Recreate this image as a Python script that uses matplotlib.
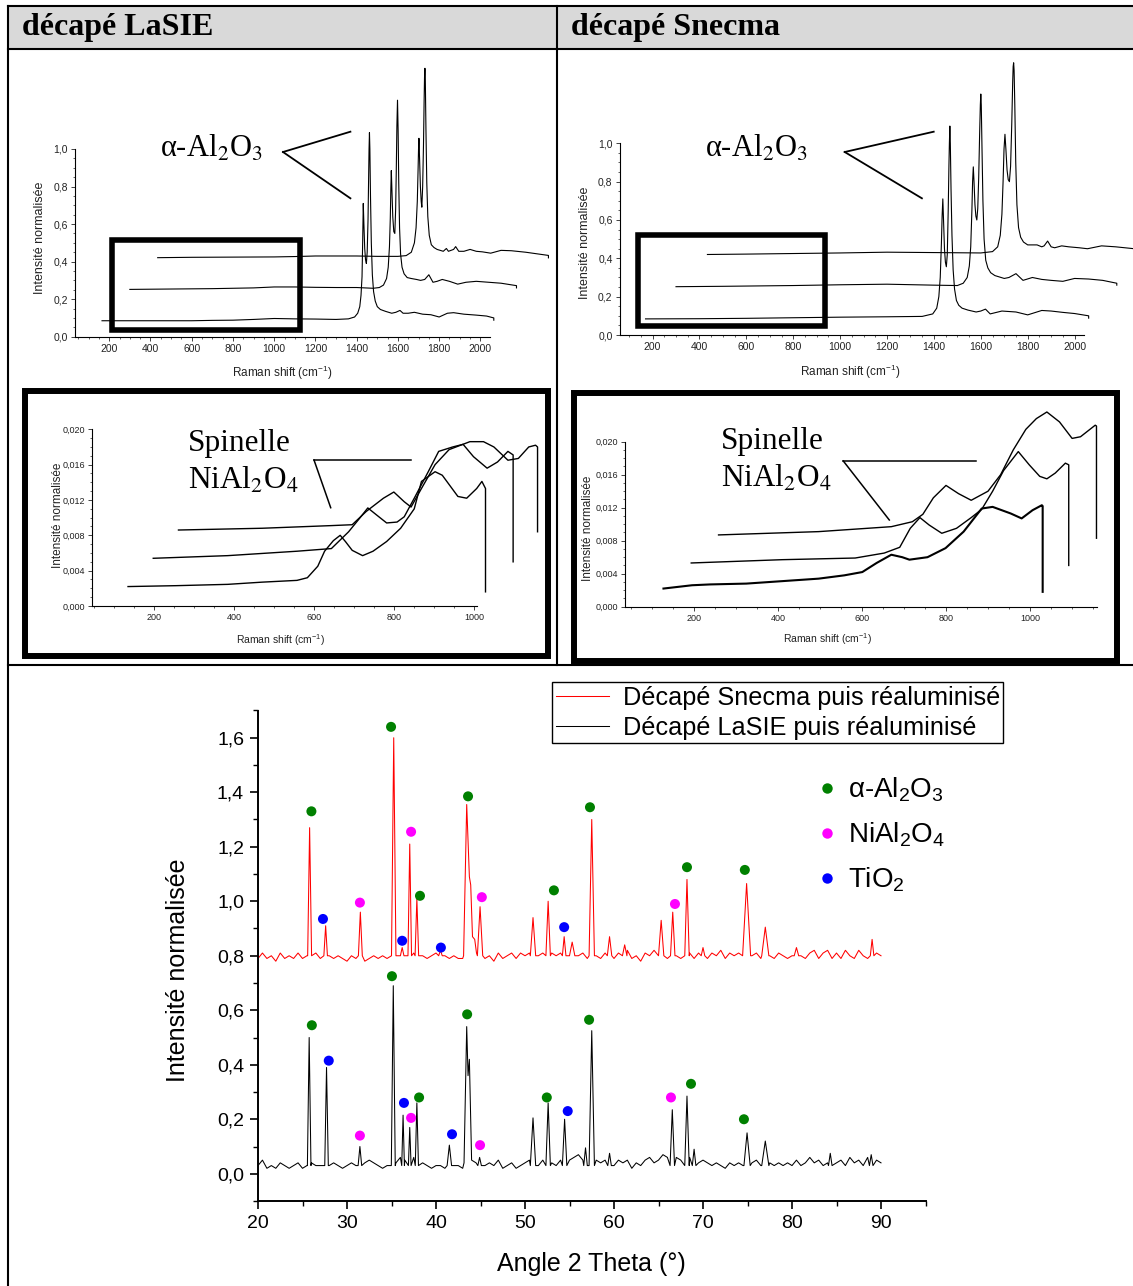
import numpy as np
import matplotlib
matplotlib.use("Agg")
import matplotlib.pyplot as plt
from matplotlib.lines import Line2D
from matplotlib.patches import Rectangle
from matplotlib.ticker import MultipleLocator, FuncFormatter

W, H = 1133, 1286

plt.rcParams["font.family"] = ["Liberation Sans", "DejaVu Sans"]
plt.rcParams["mathtext.fontset"] = "custom"
plt.rcParams["mathtext.rm"] = "Liberation Sans"
plt.rcParams["mathtext.it"] = "Liberation Sans:italic"
plt.rcParams["mathtext.bf"] = "Liberation Sans:bold"

# ---------------- Raman, full range (waterfall, 3 spectra each) ----------------
lasie_r1_x = [165, 400, 600, 700, 800, 900, 1000, 1100, 1200, 1300, 1360, 1390, 1405, 1415, 1421, 1426, 1429, 1432,
              1435, 1439, 1443, 1447, 1451, 1455, 1458, 1460, 1462, 1464, 1467, 1471, 1476, 1482, 1490, 1500, 1515,
              1540, 1570, 1590, 1610, 1625, 1650, 1680, 1720, 1760, 1800, 1840, 1870, 1920, 1980, 2030, 2065, 2065]
lasie_r1_y = [0.085, 0.085, 0.085, 0.087, 0.088, 0.092, 0.097, 0.095, 0.094, 0.092, 0.095, 0.105, 0.125, 0.16, 0.22,
              0.32, 0.5, 0.71, 0.6, 0.47, 0.41, 0.39, 0.45, 0.62, 0.85, 1.0, 1.087, 1.0, 0.75, 0.5, 0.33, 0.24,
              0.19, 0.16, 0.145, 0.135, 0.125, 0.13, 0.14, 0.125, 0.125, 0.13, 0.12, 0.117, 0.105, 0.125, 0.128,
              0.12, 0.115, 0.11, 0.1, 0.088]
lasie_r2_x = [300, 500, 700, 900, 1000, 1100, 1200, 1300, 1400, 1480, 1510, 1530, 1545, 1553, 1559, 1563, 1566, 1568,
              1571, 1575, 1580, 1585, 1589, 1592, 1595, 1598, 1601, 1604, 1608, 1613, 1620, 1630, 1645, 1665, 1690,
              1710, 1730, 1750, 1770, 1790, 1815, 1850, 1890, 1930, 1980, 2040, 2100, 2175, 2175]
lasie_r2_y = [0.252, 0.254, 0.256, 0.26, 0.265, 0.265, 0.263, 0.262, 0.262, 0.258, 0.262, 0.275, 0.31, 0.37, 0.48,
              0.63, 0.8, 0.885, 0.78, 0.64, 0.56, 0.55, 0.68, 0.88, 1.12, 1.26, 1.1, 0.82, 0.58, 0.44, 0.37, 0.335,
              0.315, 0.31, 0.305, 0.3, 0.305, 0.33, 0.29, 0.295, 0.305, 0.295, 0.28, 0.29, 0.295, 0.29, 0.285,
              0.272, 0.26]
lasie_r3_x = [435, 600, 800, 1000, 1100, 1200, 1300, 1400, 1500, 1600, 1640, 1665, 1680, 1688, 1694, 1698, 1700, 1702,
              1705, 1709, 1713, 1716, 1720, 1724, 1727, 1729, 1731, 1733, 1736, 1740, 1745, 1752, 1762, 1775, 1790,
              1820, 1835, 1845, 1870, 1880, 1895, 1920, 1950, 1980, 2010, 2050, 2100, 2150, 2220, 2330, 2330]
lasie_r3_y = [0.421, 0.423, 0.424, 0.425, 0.427, 0.43, 0.43, 0.43, 0.428, 0.428, 0.432, 0.45, 0.5, 0.58, 0.72, 0.9,
              1.0, 1.057, 0.95, 0.8, 0.72, 0.69, 0.8, 1.02, 1.25, 1.38, 1.43, 1.36, 1.1, 0.82, 0.64, 0.54, 0.49,
              0.475, 0.465, 0.455, 0.47, 0.455, 0.465, 0.48, 0.455, 0.455, 0.465, 0.455, 0.452, 0.445, 0.46,
              0.458, 0.45, 0.433, 0.42]

snecma_r1_x = [170, 400, 600, 800, 1000, 1200, 1350, 1395, 1412, 1421, 1427, 1432, 1435, 1438, 1441, 1445, 1449, 1453,
               1457, 1461, 1464, 1466, 1468, 1470, 1473, 1477, 1482, 1488, 1496, 1506, 1520, 1545, 1580, 1600, 1620,
               1640, 1690, 1750, 1800, 1860, 1900, 1950, 2000, 2060, 2060]
snecma_r1_y = [0.084, 0.085, 0.087, 0.09, 0.093, 0.095, 0.097, 0.11, 0.14, 0.2, 0.3, 0.48, 0.62, 0.71, 0.6, 0.45,
               0.38, 0.356, 0.42, 0.65, 0.88, 1.0, 1.09, 1.0, 0.76, 0.52, 0.34, 0.24, 0.18, 0.155, 0.14, 0.13, 0.12,
               0.125, 0.135, 0.11, 0.125, 0.12, 0.105, 0.128, 0.125, 0.118, 0.112, 0.1, 0.088]
snecma_r2_x = [300, 500, 800, 1000, 1200, 1400, 1500, 1525, 1542, 1551, 1557, 1562, 1565, 1568, 1571, 1575, 1579, 1583,
               1587, 1591, 1595, 1598, 1600, 1602, 1605, 1609, 1614, 1621, 1630, 1642, 1660, 1700, 1720, 1750, 1780,
               1820, 1860, 1900, 1950, 2000, 2060, 2120, 2180, 2180]
snecma_r2_y = [0.252, 0.254, 0.258, 0.262, 0.265, 0.26, 0.258, 0.27, 0.3, 0.36, 0.46, 0.65, 0.8, 0.877, 0.8, 0.68,
               0.62, 0.6, 0.66, 0.82, 1.05, 1.2, 1.257, 1.2, 0.98, 0.7, 0.5, 0.39, 0.35, 0.325, 0.31, 0.295, 0.3,
               0.32, 0.285, 0.3, 0.29, 0.285, 0.28, 0.295, 0.292, 0.285, 0.27, 0.26]
snecma_r3_x = [434, 600, 800, 1000, 1200, 1400, 1600, 1650, 1672, 1683, 1690, 1695, 1699, 1703, 1707, 1712, 1717, 1722,
               1727, 1732, 1736, 1738, 1740, 1742, 1745, 1749, 1754, 1761, 1770, 1782, 1800, 1840, 1860, 1870, 1885,
               1900, 1915, 1945, 1975, 2020, 2055, 2115, 2175, 2255]
snecma_r3_y = [0.42, 0.422, 0.425, 0.428, 0.432, 0.43, 0.428, 0.435, 0.46, 0.52, 0.63, 0.8, 0.97, 1.047, 0.97, 0.86,
               0.81, 0.8, 0.88, 1.1, 1.32, 1.4, 1.42, 1.38, 1.2, 0.9, 0.68, 0.56, 0.51, 0.485, 0.47, 0.47, 0.46,
               0.465, 0.49, 0.46, 0.455, 0.465, 0.46, 0.455, 0.45, 0.465, 0.46, 0.45]

# ---------------- Raman, zoom on spinel region ----------------
lasie_s1_x = [135, 254, 384, 470, 557, 583, 609, 626, 648, 665, 678, 695, 721, 747, 781, 816, 850, 868, 902, 920,
              959, 981, 1006, 1019, 1028, 1028]
lasie_s1_y = [0.0022, 0.0023, 0.00245, 0.0027, 0.0029, 0.0032, 0.0045, 0.0062, 0.0074, 0.0080, 0.0073, 0.0063,
              0.0057, 0.0062, 0.0073, 0.0088, 0.0110, 0.0141, 0.0152, 0.0148, 0.0124, 0.0122, 0.0133, 0.0141,
              0.0133, 0.0016]
lasie_s2_x = [198, 384, 557, 643, 686, 713, 734, 756, 781, 807, 825, 850, 885, 911, 946, 972, 998, 1032, 1058, 1084,
              1097, 1097]
lasie_s2_y = [0.0054, 0.0057, 0.0062, 0.0065, 0.0084, 0.0099, 0.0111, 0.0103, 0.0094, 0.0095, 0.0101, 0.0122,
              0.0152, 0.0175, 0.018, 0.0183, 0.0169, 0.0156, 0.0163, 0.0175, 0.0171, 0.005]
lasie_s3_x = [261, 470, 643, 695, 730, 773, 799, 825, 842, 868, 902, 937, 989, 1023, 1049, 1084, 1110, 1136, 1153,
              1158, 1158]
lasie_s3_y = [0.0086, 0.0088, 0.0091, 0.0092, 0.0107, 0.0122, 0.0129, 0.0118, 0.0112, 0.0133, 0.016, 0.0177,
              0.0186, 0.0186, 0.018, 0.0165, 0.0167, 0.018, 0.0182, 0.018, 0.0084]

snecma_s1_x = [128, 196, 239, 325, 411, 497, 558, 601, 635, 670, 696, 713, 756, 799, 842, 885, 911, 954, 980, 1006,
               1028, 1030, 1030]
snecma_s1_y = [0.0022, 0.0026, 0.0027, 0.0028, 0.0031, 0.0034, 0.0038, 0.0042, 0.0053, 0.0063, 0.006, 0.0057,
               0.006, 0.0071, 0.0091, 0.0119, 0.0121, 0.0113, 0.0107, 0.0117, 0.0123, 0.0122, 0.0018]
snecma_s2_x = [194, 411, 584, 653, 690, 715, 738, 760, 790, 825, 860, 885, 911, 937, 972, 998, 1023, 1040, 1060,
               1084, 1092, 1092]
snecma_s2_y = [0.0053, 0.0057, 0.0059, 0.0065, 0.0072, 0.0095, 0.0108, 0.0099, 0.0089, 0.0095, 0.0108, 0.0118,
               0.014, 0.0165, 0.0188, 0.0172, 0.0158, 0.0155, 0.0162, 0.0174, 0.0172, 0.005]
snecma_s3_x = [259, 497, 670, 720, 745, 770, 800, 830, 860, 900, 930, 960, 990, 1015, 1040, 1070, 1100, 1120, 1140,
               1155, 1158, 1158]
snecma_s3_y = [0.0087, 0.0091, 0.0097, 0.0103, 0.0112, 0.0132, 0.0147, 0.0137, 0.0129, 0.014, 0.016, 0.019, 0.0215,
               0.0228, 0.0236, 0.0224, 0.0204, 0.0206, 0.0214, 0.022, 0.0219, 0.0083]

# ---------------- XRD ----------------
theta_start, theta_step = 20.0, 0.5
red_base = [0.79, 0.81, 0.79, 0.80, 0.78, 0.81, 0.79, 0.80, 0.79, 0.81,
            0.79, 0.80, 0.79, 0.81, 0.79, 0.80, 0.80, 0.79, 0.80, 0.79,
            0.78, 0.80, 0.79, 0.80, 0.78, 0.79, 0.80, 0.79, 0.80, 0.79,
            0.79, 0.80, 0.82, 0.80, 0.80, 0.81, 0.79, 0.80, 0.79, 0.80,
            0.81, 0.79, 0.80, 0.79, 0.80, 0.79, 0.79, 0.80, 0.79, 0.81,
            0.81, 0.79, 0.80, 0.78, 0.81, 0.79, 0.80, 0.81, 0.79, 0.81,
            0.80, 0.81, 0.79, 0.80, 0.81, 0.80, 0.81, 0.80, 0.81, 0.80,
            0.83, 0.82, 0.80, 0.81, 0.79, 0.81, 0.80, 0.79, 0.81, 0.80,
            0.79, 0.81, 0.80, 0.82, 0.79, 0.80, 0.78, 0.81, 0.80, 0.82,
            0.80, 0.81, 0.79, 0.81, 0.80, 0.79, 0.82, 0.81, 0.79, 0.81,
            0.82, 0.79, 0.81, 0.80, 0.82, 0.79, 0.81, 0.80, 0.81, 0.82,
            0.81, 0.80, 0.81, 0.79, 0.84, 0.80, 0.79, 0.81, 0.80, 0.79,
            0.80, 0.82, 0.80, 0.79, 0.81, 0.82, 0.79, 0.81, 0.82, 0.79,
            0.81, 0.79, 0.82, 0.80, 0.79, 0.82, 0.80, 0.79, 0.83, 0.81,
            0.80]
black_base = [0.03, 0.05, 0.02, 0.03, 0.02, 0.04, 0.03, 0.02, 0.03, 0.04,
              0.02, 0.03, 0.04, 0.03, 0.03, 0.05, 0.03, 0.04, 0.03, 0.02,
              0.03, 0.04, 0.03, 0.03, 0.04, 0.05, 0.04, 0.03, 0.02, 0.03,
              0.03, 0.04, 0.06, 0.05, 0.04, 0.06, 0.03, 0.04, 0.03, 0.02,
              0.03, 0.03, 0.02, 0.04, 0.03, 0.03, 0.02, 0.04, 0.03, 0.04,
              0.06, 0.03, 0.04, 0.03, 0.05, 0.02, 0.03, 0.04, 0.02, 0.03,
              0.04, 0.05, 0.04, 0.03, 0.05, 0.04, 0.04, 0.03, 0.05, 0.04,
              0.05, 0.06, 0.07, 0.05, 0.04, 0.04, 0.05, 0.04, 0.05, 0.03,
              0.03, 0.05, 0.04, 0.05, 0.02, 0.04, 0.03, 0.05, 0.06, 0.04,
              0.05, 0.07, 0.06, 0.05, 0.06, 0.05, 0.07, 0.06, 0.05, 0.04,
              0.05, 0.04, 0.03, 0.04, 0.03, 0.02, 0.04, 0.03, 0.04, 0.03,
              0.05, 0.04, 0.05, 0.03, 0.06, 0.04, 0.03, 0.04, 0.03, 0.04,
              0.03, 0.05, 0.03, 0.04, 0.06, 0.04, 0.05, 0.03, 0.04, 0.06,
              0.04, 0.05, 0.03, 0.06, 0.04, 0.05, 0.03, 0.06, 0.04, 0.05,
              0.04]
# single peaks: (2theta, top, half width)
red_peaks = [(25.8, 1.27, 0.22), (27.6, 0.91, 0.2), (31.5, 0.96, 0.22), (35.25, 1.60, 0.25), (36.2, 0.83, 0.2),
             (37.05, 1.21, 0.2), (37.85, 1.01, 0.2), (40.5, 0.82, 0.2), (44.95, 0.98, 0.3), (50.9, 0.94, 0.3),
             (52.6, 1.00, 0.25), (54.4, 0.87, 0.2), (55.3, 0.85, 0.3), (57.5, 1.30, 0.3), (59.5, 0.87, 0.25),
             (61.2, 0.84, 0.25), (65.3, 0.93, 0.3), (66.6, 0.96, 0.25), (68.2, 1.08, 0.25), (70.0, 0.83, 0.2),
             (74.9, 1.065, 0.45), (77.0, 0.905, 0.4), (80.5, 0.83, 0.25), (89.0, 0.86, 0.2)]
black_peaks = [(25.75, 0.50, 0.2), (27.7, 0.39, 0.2), (31.45, 0.10, 0.2), (35.2, 0.69, 0.22), (36.3, 0.215, 0.15),
               (37.05, 0.17, 0.15), (37.85, 0.26, 0.18), (41.5, 0.105, 0.25), (44.9, 0.06, 0.2), (50.9, 0.205, 0.3),
               (52.6, 0.26, 0.25), (54.45, 0.20, 0.25), (56.8, 0.095, 0.2), (57.5, 0.525, 0.3), (59.5, 0.075, 0.2),
               (66.55, 0.235, 0.25), (68.2, 0.285, 0.25), (69.0, 0.09, 0.2), (74.95, 0.15, 0.35),
               (77.0, 0.12, 0.4), (84.3, 0.075, 0.2), (88.9, 0.07, 0.2)]
# overlapping peaks read as vertex lists
red_groups = [[(43.1, 0.80), (43.45, 1.355), (43.75, 1.09), (43.9, 1.06), (44.1, 0.87), (44.35, 0.86),
               (44.55, 0.81)]]
black_groups = [[(43.15, 0.04), (43.45, 0.54), (43.6, 0.36), (43.75, 0.42), (44.0, 0.05)]]

# phase markers
red_alumina_x = [26.0, 34.95, 38.2, 43.6, 53.25, 57.3, 68.2, 74.7]
red_alumina_y = [1.33, 1.64, 1.02, 1.385, 1.04, 1.345, 1.125, 1.115]
red_spinel_x = [31.45, 37.2, 45.15, 66.85]
red_spinel_y = [0.995, 1.255, 1.015, 0.99]
red_tio2_x = [27.3, 36.2, 40.55, 54.4]
red_tio2_y = [0.935, 0.855, 0.83, 0.905]
black_alumina_x = [26.05, 35.05, 38.1, 43.5, 52.45, 57.2, 68.65, 74.6]
black_alumina_y = [0.545, 0.725, 0.28, 0.585, 0.28, 0.565, 0.33, 0.20]
black_spinel_x = [31.45, 37.2, 44.95, 66.4]
black_spinel_y = [0.14, 0.205, 0.105, 0.28]
black_tio2_x = [27.95, 36.4, 41.8, 54.8]
black_tio2_y = [0.415, 0.26, 0.145, 0.23]

GREEN, MAGENTA, BLUE = "#008000", "#ff00ff", "#0000ff"


def pattern(base, peaks, groups, floor):
    grid = theta_start + theta_step * np.arange(len(base))
    spans = [(c - w, c + w) for c, h, w in peaks] + [(g[0][0], g[-1][0]) for g in groups]
    pts = [(x, y) for x, y in zip(grid, base) if not any(a <= x <= b for a, b in spans)]
    for c, h, w in peaks:
        pts += [(c - w, floor), (c, h), (c + w, floor)]
    for g in groups:
        pts += g
    pts.sort()
    return [p[0] for p in pts], [p[1] for p in pts]


def comma(fmt):
    def f(v, pos):
        if abs(v) < 1e-12:
            v = 0.0
        return (fmt % v).replace(".", ",")
    return FuncFormatter(f)


fig = plt.figure(figsize=(W / 100, H / 100), dpi=100)


def px_axes(x0, y0, x1, y1):
    return fig.add_axes([x0 / W, 1 - y1 / H, (x1 - x0) / W, (y1 - y0) / H])


def small_axes(ax, xlim, ylim, ymaj, ymin, yfmt, fs):
    ax.set_xlim(*xlim)
    ax.set_ylim(*ylim)
    ax.patch.set_alpha(0)
    for s in ("top", "right"):
        ax.spines[s].set_visible(False)
    for s in ("left", "bottom"):
        ax.spines[s].set_linewidth(0.8)
    ax.xaxis.set_major_locator(MultipleLocator(200))
    ax.xaxis.set_minor_locator(MultipleLocator(50))
    ax.yaxis.set_major_locator(MultipleLocator(ymaj))
    ax.yaxis.set_minor_locator(MultipleLocator(ymin))
    ax.yaxis.set_major_formatter(comma(yfmt))
    ax.tick_params(which="major", direction="out", length=3, width=0.6, labelsize=fs, pad=2, colors="#222222")
    ax.tick_params(which="minor", direction="out", length=1.6, width=0.5, colors="#222222")


def spectra(ax, curves, lw=0.8):
    for x, y in curves:
        ax.plot(x, y, color="black", lw=lw, clip_on=False)


# top-left: full Raman, décapé LaSIE
ax1 = px_axes(75, 149, 490.5, 336.7)
small_axes(ax1, (34, 2049), (0, 1.0), 0.2, 0.05, "%.1f", 7.5)
spectra(ax1, [(lasie_r1_x, lasie_r1_y), (lasie_r2_x, lasie_r2_y), (lasie_r3_x, lasie_r3_y)])
ax1.set_xlabel("Raman shift (cm$^{-1}$)", fontsize=8.5, color="#222222")
ax1.set_ylabel("Intensité normalisée", fontsize=9, color="#222222")
ax1.xaxis.set_label_coords(0.499, -0.145)
ax1.yaxis.set_label_coords(-0.07, 0.526)

# top-right: full Raman, décapé Snecma
ax2 = px_axes(619.5, 143.3, 1083.5, 335)
small_axes(ax2, (59, 2038), (0, 1.0), 0.2, 0.05, "%.1f", 7.5)
spectra(ax2, [(snecma_r1_x, snecma_r1_y), (snecma_r2_x, snecma_r2_y), (snecma_r3_x, snecma_r3_y)])
ax2.set_xlabel("Raman shift (cm$^{-1}$)", fontsize=8.5, color="#222222")
ax2.set_ylabel("Intensité normalisée", fontsize=9, color="#222222")
ax2.xaxis.set_label_coords(0.497, -0.146)
ax2.yaxis.set_label_coords(-0.061, 0.48)

# spinel zooms
ax3 = px_axes(92, 429.3, 476.7, 606)
small_axes(ax3, (45, 1006), (0, 0.020), 0.004, 0.001, "%.3f", 6.5)
spectra(ax3, [(lasie_s1_x, lasie_s1_y), (lasie_s2_x, lasie_s2_y), (lasie_s3_x, lasie_s3_y)], lw=1.0)
ax3.set_xlabel("Raman shift (cm$^{-1}$)", fontsize=7.5, color="#222222")
ax3.set_ylabel("Intensité normalisée", fontsize=8.5, color="#222222")
ax3.xaxis.set_label_coords(0.489, -0.147)
ax3.yaxis.set_label_coords(-0.073, 0.515)

ax4 = px_axes(624.8, 441.7, 1096.9, 606.7)
small_axes(ax4, (36, 1159), (0, 0.020), 0.004, 0.001, "%.3f", 6.5)
spectra(ax4, [(snecma_s2_x, snecma_s2_y), (snecma_s3_x, snecma_s3_y)], lw=1.0)
spectra(ax4, [(snecma_s1_x, snecma_s1_y)], lw=1.5)
ax4.set_xlabel("Raman shift (cm$^{-1}$)", fontsize=7.5, color="#222222")
ax4.set_ylabel("Intensité normalisée", fontsize=8.5, color="#222222")
ax4.xaxis.set_label_coords(0.43, -0.147)
ax4.yaxis.set_label_coords(-0.066, 0.477)

# XRD
ax5 = px_axes(258, 710.5, 925.5, 1201)
rx, ry = pattern(red_base, red_peaks, red_groups, 0.80)
bx, by = pattern(black_base, black_peaks, black_groups, 0.03)
l_red, = ax5.plot(rx, ry, color="#ff0000", lw=0.75)
l_black, = ax5.plot(bx, by, color="black", lw=0.75)
ms = 52
for xs, ys, c in [(red_alumina_x, red_alumina_y, GREEN), (red_spinel_x, red_spinel_y, MAGENTA),
                  (red_tio2_x, red_tio2_y, BLUE), (black_alumina_x, black_alumina_y, GREEN),
                  (black_spinel_x, black_spinel_y, MAGENTA), (black_tio2_x, black_tio2_y, BLUE)]:
    ax5.scatter(xs, ys, s=ms, color=c, edgecolors="none", zorder=3)
ax5.set_xlim(20, 95)
ax5.set_ylim(-0.1, 1.7)
for s in ("top", "right"):
    ax5.spines[s].set_visible(False)
for s in ("left", "bottom"):
    ax5.spines[s].set_linewidth(1.4)
ax5.xaxis.set_major_locator(MultipleLocator(10))
ax5.xaxis.set_minor_locator(MultipleLocator(5))
ax5.yaxis.set_major_locator(MultipleLocator(0.2))
ax5.yaxis.set_minor_locator(MultipleLocator(0.1))
ax5.xaxis.set_major_formatter(FuncFormatter(lambda v, p: "%d" % v if v <= 90 else ""))
ax5.yaxis.set_major_formatter(comma("%.1f"))
ax5.tick_params(which="major", direction="out", length=6, width=1.2, labelsize=14, pad=4)
ax5.tick_params(which="minor", direction="out", length=3.5, width=1.0)
ax5.set_xlabel("Angle 2 Theta (°)", fontsize=18)
ax5.set_ylabel("Intensité normalisée", fontsize=18)
ax5.xaxis.set_label_coords(0.5, -0.104)
ax5.yaxis.set_label_coords(-0.102, 0.471)

leg1 = fig.legend([l_red, l_black], ["Décapé Snecma puis réaluminisé", "Décapé LaSIE puis réaluminisé"],
                  loc="upper left", bbox_to_anchor=(552 / W, 1 - 682 / H), fontsize=18.2, frameon=True,
                  fancybox=False, edgecolor="black", framealpha=1, borderpad=0.14, labelspacing=0.25,
                  handlelength=2.1, handletextpad=0.55, borderaxespad=0)
leg1.get_frame().set_linewidth(1.0)
dots = [Line2D([], [], ls="none", marker="o", markersize=7.5, color=c, markeredgewidth=0)
        for c in (GREEN, MAGENTA, BLUE)]
fig.legend(dots, ["α-Al$_2$O$_3$", "NiAl$_2$O$_4$", "TiO$_2$"], loc="upper left",
           bbox_to_anchor=(819 / W, 1 - 776 / H), fontsize=20, frameon=False, labelspacing=0.58,
           handlelength=0.6, handletextpad=0.45, borderaxespad=0, borderpad=0)

# table frame, header, boxes and annotations in pixel coordinates
bg = fig.add_axes([0, 0, 1, 1], zorder=10)
bg.set_xlim(0, W)
bg.set_ylim(H, 0)
bg.axis("off")
bg.patch.set_alpha(0)
bg.add_patch(Rectangle((8, 6), W - 8, 43, facecolor="#d9d9d9", edgecolor="none"))
tl = 1.5
bg.plot([8, W], [6, 6], color="black", lw=tl)
bg.plot([8, W], [49, 49], color="black", lw=tl)
bg.plot([8, W], [665, 665], color="black", lw=tl)
bg.plot([8, 8], [6, H], color="black", lw=tl)
bg.plot([557, 557], [6, 665], color="black", lw=tl)
serif = ["Liberation Serif", "DejaVu Serif"]
bg.text(22, 27, "décapé LaSIE", family=serif, weight="bold", fontsize=23, va="center", ha="left")
bg.text(571, 27, "décapé Snecma", family=serif, weight="bold", fontsize=23, va="center", ha="left")

bg.add_patch(Rectangle((112, 240), 188, 90, fill=False, lw=4, edgecolor="black"))
bg.add_patch(Rectangle((637.5, 234.5), 187.5, 91, fill=False, lw=4, edgecolor="black"))
bg.add_patch(Rectangle((25, 391), 523, 264.5, fill=False, lw=4.3, edgecolor="black"))
bg.add_patch(Rectangle((573.5, 392.5), 543, 268.5, fill=False, lw=4.3, edgecolor="black"))

for tx, lx, l1, l2 in [(160, 283, (350.4, 131.7), (350.4, 198.3)),
                       (705, 844.7, (933.7, 131.7), (921.9, 198.3))]:
    bg.text(tx, 149, "α-Al$_2$O$_3$", family=serif, math_fontfamily="stix", fontsize=22, va="center")
    bg.plot([lx, l1[0]], [152, l1[1]], color="black", lw=1.3)
    bg.plot([lx, l2[0]], [152, l2[1]], color="black", lw=1.3)

for tx, y1, y2, p0, p1, p2 in [(188, 443, 481, (314, 460), (411, 460), (330.7, 507.7)),
                               (721, 441, 479, (843.3, 461), (976.2, 461), (889.3, 520))]:
    bg.text(tx, y1, "Spinelle", family=serif, fontsize=22.5, va="center")
    bg.text(tx, y2, "NiAl$_2$O$_4$", family=serif, math_fontfamily="stix", fontsize=22.5, va="center")
    bg.plot([p0[0], p1[0]], [p0[1], p1[1]], color="black", lw=1.1)
    bg.plot([p0[0], p2[0]], [p0[1], p2[1]], color="black", lw=1.1)

fig.savefig("out.png", dpi=100)
